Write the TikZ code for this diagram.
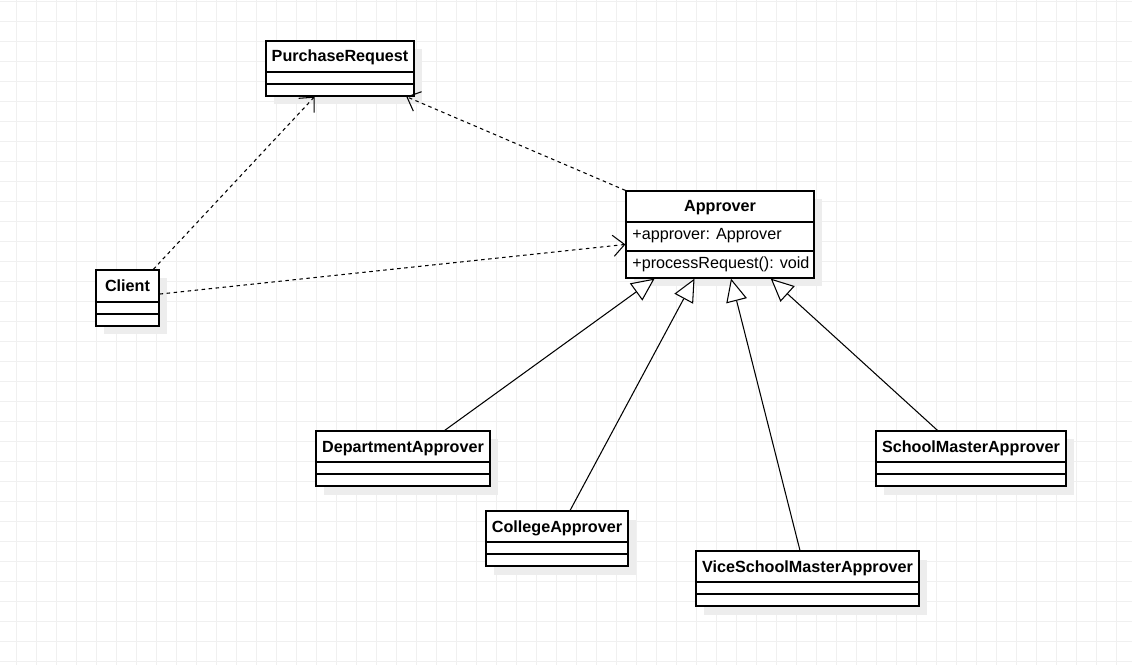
\documentclass[tikz,border=0pt]{standalone}
\usepackage{fontspec}
\setmainfont{Liberation Sans}
\usepackage{tikz}
\usetikzlibrary{arrows.meta, fit, shadows}
\colorlet{gridline}{black!6}
\colorlet{shadowgray}{black!7}

\begin{document}
\begin{tikzpicture}[x=0.02cm, y=-0.02cm, font=\fontsize{9.2pt}{11pt}\selectfont,
    cls/.style={draw=black, line width=0.7pt, fill=white, inner sep=0pt,
      drop shadow={shadow xshift=0.16cm, shadow yshift=-0.17cm, fill=shadowgray, opacity=1}},
    title/.style={anchor=base, inner sep=0pt, font=\fontsize{9.2pt}{11pt}\selectfont\bfseries},
    member/.style={anchor=base west, inner sep=0pt},
    sep/.style={line width=0.7pt},
    dep/.style={dash pattern=on 2pt off 2pt, line width=0.6pt,
      -{Straight Barb[length=6.5pt, width=12pt]}},
    inherit/.style={line width=0.6pt, -{Triangle[length=13pt, width=12pt, fill=white]}}]
    \useasboundingbox (0,0) rectangle (1132,665);
    \fill[white] (0,0) rectangle (1132,665);
    \foreach \x in {16,36,...,1132}
      \draw[gridline, line width=0.5pt] (\x,0) -- (\x,665);
    \foreach \y in {1,21,...,665}
      \draw[gridline, line width=0.5pt] (0,\y) -- (1132,\y);

    \node[cls, fit={(266,41) (414,96)}] (request) {};
    \node[title] at (340,62) {PurchaseRequest};
    \draw[sep] (266,72) -- (414,72) (266,84) -- (414,84);

    \node[cls, fit={(626,191) (814,278)}] (approver) {};
    \node[title] at (720,212) {Approver};
    \draw[sep] (626,222) -- (814,222) (626,251) -- (814,251);
    \node[member] at (632,240) {+approver: Approver};
    \node[member] at (632,269) {+processRequest(): void};

    \node[cls, fit={(96,270) (159,326)}] (client) {};
    \node[title] at (127.5,292) {Client};
    \draw[sep] (96,302) -- (159,302) (96,314) -- (159,314);

    \node[cls, fit={(316,431) (490,486)}] (dept) {};
    \node[title] at (403,452) {DepartmentApprover};
    \draw[sep] (316,462) -- (490,462) (316,474) -- (490,474);

    \node[cls, fit={(486,511) (628,566)}] (college) {};
    \node[title] at (557,532) {CollegeApprover};
    \draw[sep] (486,542) -- (628,542) (486,554) -- (628,554);

    \node[cls, fit={(696,551) (919,606)}] (vice) {};
    \node[title] at (807.5,572) {ViceSchoolMasterApprover};
    \draw[sep] (696,582) -- (919,582) (696,594) -- (919,594);

    \node[cls, fit={(876,431) (1066,486)}] (master) {};
    \node[title] at (971,452) {SchoolMasterApprover};
    \draw[sep] (876,462) -- (1066,462) (876,474) -- (1066,474);

    \draw[dep] (client.48) -- (request.228);
    \draw[dep] (approver.north west) -- (request.337);
    \draw[dep] (client.7) -- (approver.186);

    \draw[inherit] (dept.34.5) -- (approver.214);
    \draw[inherit] (college.65) -- (approver.240);
    \draw[inherit] (vice.105) -- (approver.284);
    \draw[inherit] (master.140) -- (approver.319);
  \end{tikzpicture}
\end{document}
